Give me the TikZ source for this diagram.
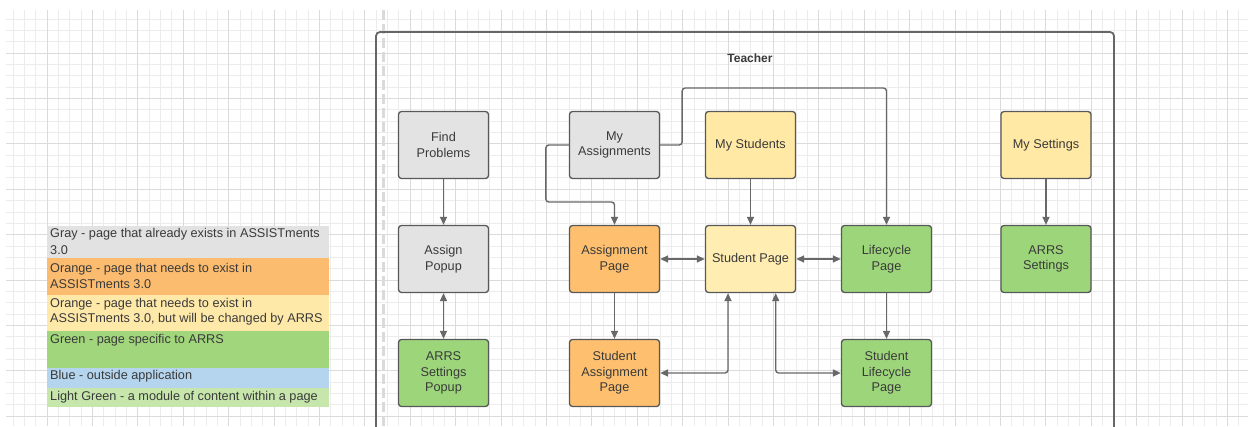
\documentclass[tikz,border=0pt]{standalone}
\usepackage{fontspec}
\setmainfont{Liberation Sans}
\usetikzlibrary{arrows.meta,calc}

% palette
\definecolor{gridminor}{HTML}{ECECEC}
\definecolor{gridmajor}{HTML}{DBDBDB}
\definecolor{dashcol}{HTML}{DADADA}
\definecolor{framecol}{HTML}{666666}
\definecolor{edgecol}{HTML}{585858}
\definecolor{linkcol}{HTML}{686868}
\definecolor{txt}{HTML}{3A3A3A}
\definecolor{fgray}{HTML}{E3E3E3}
\definecolor{forange}{HTML}{FEC06F}
\definecolor{fyellow}{HTML}{FFE9A4}
\definecolor{fyellowlt}{HTML}{FFEDB2}
\definecolor{fgreen}{HTML}{9DD67A}
\definecolor{lgray}{HTML}{E2E2E2}
\definecolor{lorange}{HTML}{FCBC70}
\definecolor{lyellow}{HTML}{FFE9A9}
\definecolor{lgreen}{HTML}{A2D67C}
\definecolor{lblue}{HTML}{B5D4EE}
\definecolor{llgreen}{HTML}{C6E6AC}

\tikzset{
  pagebox/.style={rectangle, rounded corners=3pt, draw=edgecol, line width=1.3pt,
    minimum width=90pt, minimum height=67pt, align=center, text=txt,
    font=\fontsize{12.7}{15.5}\selectfont},
  tip/.style={},
  link/.style={draw=linkcol, line width=1.4pt, rounded corners=3pt,
    -{Triangle[length=8pt,width=7pt]}},
  twoway/.style={link, {Triangle[length=8pt,width=7pt]}-{Triangle[length=8pt,width=7pt]}},
  legendtext/.style={anchor=west, text=txt, inner sep=0pt,
    font=\fontsize{12.7}{15.5}\selectfont}
}

\begin{document}
\begin{tikzpicture}[x=1pt, y=-1pt]
  % canvas
  \fill[white] (0,0) rectangle (1248,426);
  \useasboundingbox (0,0) rectangle (1248,426);

  % drawing-paper grid
  \begin{scope}
    \clip (6,10) rectangle (1248,426);
    \foreach \i in {-3,...,105} {
      \pgfmathsetmacro{\gx}{47+11.35*\i}
      \draw[gridminor, line width=0.8pt] (\gx,10) -- (\gx,426);
    }
    \foreach \j in {-3,...,33} {
      \pgfmathsetmacro{\gy}{53+11.35*\j}
      \draw[gridminor, line width=0.8pt] (6,\gy) -- (1248,\gy);
    }
    \foreach \i in {-1,...,26} {
      \pgfmathsetmacro{\gx}{47+45.4*\i}
      \draw[gridmajor, line width=0.8pt] (\gx,10) -- (\gx,426);
    }
    \foreach \j in {-1,...,8} {
      \pgfmathsetmacro{\gy}{53+45.4*\j}
      \draw[gridmajor, line width=0.8pt] (6,\gy) -- (1248,\gy);
    }
  \end{scope}

  % page break guide
  \draw[dashcol, line width=3pt, dash pattern=on 10pt off 4pt] (383,10) -- (383,426);

  % Teacher swimlane
  \draw[framecol, line width=1.8pt, rounded corners=4pt]
    (376,430) -- (376,32) -- (1114,32) -- (1114,430);
  \node[font=\bfseries\fontsize{12}{14}\selectfont, text=txt] (teacher) at (750,58) {Teacher};

  % pages
  \node[pagebox, fill=fgray]    (findprob)  at (443.5,145) {Find\\Problems};
  \node[pagebox, fill=fgray]    (myassign)  at (614.5,145) {My\\Assignments};
  \node[pagebox, fill=fyellow]  (mystud)    at (750.5,145) {My Students};
  \node[pagebox, fill=fyellow]  (mysett)    at (1046,145)  {My Settings};

  \node[pagebox, fill=fgray]    (assignpop) at (443.5,259) {Assign\\Popup};
  \node[pagebox, fill=forange]  (assignpg)  at (614.5,259) {Assignment\\Page};
  \node[pagebox, fill=fyellowlt](studpg)    at (750.5,259) {Student Page};
  \node[pagebox, fill=fgreen]   (lifepg)    at (886.5,259) {Lifecycle\\Page};
  \node[pagebox, fill=fgreen]   (arrsset)   at (1046,259)  {ARRS\\Settings};

  \node[pagebox, fill=fgreen]   (arrspop)   at (443.5,373) {ARRS\\Settings\\Popup};
  \node[pagebox, fill=forange]  (studassign) at (614.5,373) {Student\\Assignment\\Page};
  \node[pagebox, fill=fgreen]   (studlife)  at (886.5,373) {Student\\Lifecycle\\Page};

  % links
  \draw[link] (findprob) -- (assignpop);
  \draw[twoway] (assignpop) -- (arrspop);
  \draw[link] (myassign.west) -- ++(-23,0) -- ++(0,57) -| (assignpg.north);
  \draw[link] (myassign.east) -- ++(22,0) -- ++(0,-57) -| (lifepg.north);
  \draw[link] (mystud) -- (studpg);
  \draw[link] (mysett) -- (arrsset);
  \draw[twoway] (assignpg) -- (studpg);
  \draw[twoway] (studpg) -- (lifepg);
  \draw[link] (assignpg) -- (studassign);
  \draw[link] (lifepg) -- (studlife);
  \draw[twoway] ($(studpg.south)+(-22.5,0)$) |- (studassign.east);
  \draw[twoway] ($(studpg.south)+(25.2,0)$) |- (studlife.west);

  % colour key
  \fill[lgray]   (46.5,226) rectangle (329,258);
  \fill[lorange] (46.5,258) rectangle (329,295);
  \fill[lyellow] (46.5,295) rectangle (329,331);
  \fill[lgreen]  (46.5,331) rectangle (329,368);
  \fill[lblue]   (46.5,368) rectangle (329,388);
  \fill[llgreen] (46.5,388) rectangle (329,407);

  \node[legendtext] (k1a) at (50,234) {Gray - page that already exists in ASSISTments};
  \node[legendtext] (k1b) at (50,250) {3.0};
  \node[legendtext] (k2a) at (50,269) {Orange - page that needs to exist in};
  \node[legendtext] (k2b) at (50,284.5) {ASSISTments 3.0};
  \node[legendtext] (k3a) at (50,304) {Orange - page that needs to exist in};
  \node[legendtext] (k3b) at (50,319.5) {ASSISTments 3.0, but will be changed by ARRS};
  \node[legendtext] (k4)  at (50,340) {Green - page specific to ARRS};
  \node[legendtext] (k5)  at (50,376) {Blue - outside application};
  \node[legendtext] (k6)  at (50,397) {Light Green - a module of content within a page};
\end{tikzpicture}
\end{document}
